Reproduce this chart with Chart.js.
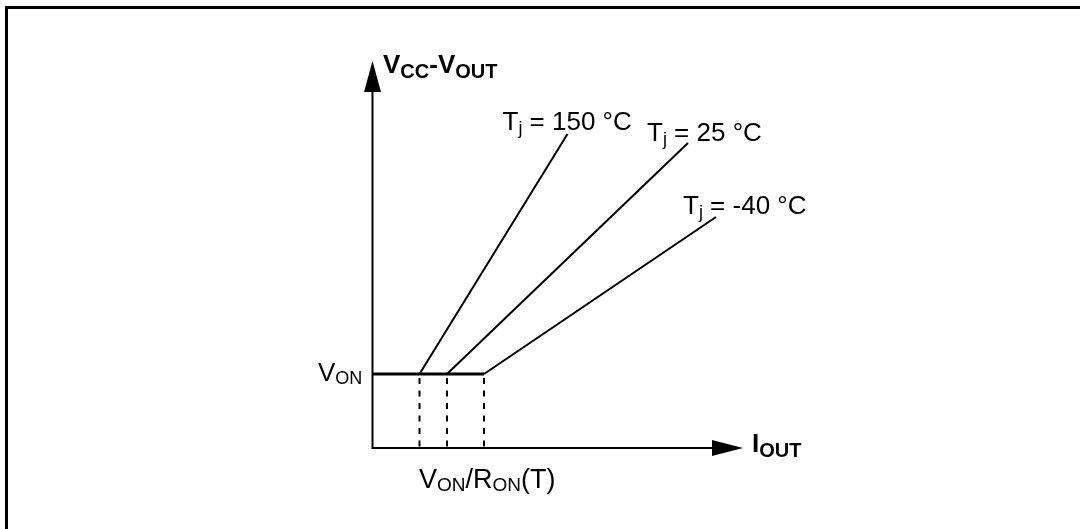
<!DOCTYPE html>
<html>
<head>
<meta charset="utf-8">
<script src="https://cdn.jsdelivr.net/npm/chart.js@4"></script>
<style>
    html, body { margin: 0; padding: 0; background: #fff; }
    #wrap { position: relative; width: 1080px; height: 529px; overflow: hidden; }
    #frame { position: absolute; left: 5px; top: 6px; right: -10px; bottom: -10px;
             border-left: 3px solid #000; border-top: 3px solid #000; }
    canvas { position: absolute; left: 0; top: 0; }
</style>
</head>
<body>
<div id="wrap">
    <div id="frame"></div>
    <canvas id="chart" width="1080" height="529"></canvas>
</div>
<script>
// values (arbitrary units, origin at the axes corner)
const V_ON = 7.4;
const temps = ["150", "25", "-40"];
const kneeCurrent = [4.7, 7.45, 11.15];     // V_ON / R_ON(T)
const endCurrent = [19.5, 31.55, 34.35];
const endVoltage = [31.4, 30.5, 23.1];
const X_AXIS_END = 37.05;
const Y_AXIS_END = 38.7;

const FONT = '"Liberation Sans", Arial, Helvetica, sans-serif';

// label runs: [text, isSubscript]
const tempLabels = temps.map(t => [["T", false], ["j", true], [" = " + t + " \u00b0C", false]]);
const tempLabelOffset = [[-65, -4], [-41, -2], [-33, -3]];   // px from line top end

const datasets = [];
// flat V_ON part
datasets.push({ data: [{ x: 0, y: V_ON }, { x: kneeCurrent[2], y: V_ON }], borderWidth: 3 });
// resistive slopes
temps.forEach((t, i) => {
    datasets.push({ data: [{ x: kneeCurrent[i], y: V_ON }, { x: endCurrent[i], y: endVoltage[i] }], borderWidth: 2 });
});
// dashed drops to the current axis
temps.forEach((t, i) => {
    datasets.push({ data: [{ x: kneeCurrent[i], y: V_ON }, { x: kneeCurrent[i], y: 0 }],
        borderWidth: 2, borderDash: [6, 6.5], borderDashOffset: -4 });
});
datasets.forEach(d => {
    d.showLine = true; d.borderColor = "#000"; d.pointRadius = 0; d.fill = false; d.borderCapStyle = "butt";
});

function drawRuns(ctx, runs, x, y, size, subSize, bold, subDrop) {
    const w = bold ? "bold " : "";
    runs.forEach(([txt, sub]) => {
        ctx.font = w + (sub ? subSize : size) + "px " + FONT;
        ctx.fillText(txt, x, sub ? y + subDrop : y);
        x += ctx.measureText(txt).width;
    });
}

const sketchPlugin = {
    id: "sketch",
    afterDatasetsDraw(chart) {
        const ctx = chart.ctx;
        const xs = chart.scales.x, ys = chart.scales.y;
        const ox = xs.getPixelForValue(0), oy = ys.getPixelForValue(0);
        const xt = xs.getPixelForValue(X_AXIS_END), yt = ys.getPixelForValue(Y_AXIS_END);
        ctx.save();
        ctx.strokeStyle = "#000";
        ctx.fillStyle = "#000";
        ctx.lineWidth = 2;
        // axes
        ctx.beginPath();
        ctx.moveTo(ox, yt + 20); ctx.lineTo(ox, oy); ctx.lineTo(xt - 20, oy);
        ctx.stroke();
        // arrow heads
        ctx.beginPath();
        ctx.moveTo(ox, yt); ctx.lineTo(ox - 8.5, yt + 31); ctx.lineTo(ox + 8.5, yt + 31); ctx.closePath();
        ctx.fill();
        ctx.beginPath();
        ctx.moveTo(xt, oy); ctx.lineTo(xt - 31, oy - 8); ctx.lineTo(xt - 31, oy + 8); ctx.closePath();
        ctx.fill();

        ctx.textBaseline = "alphabetic";
        // axis titles
        drawRuns(ctx, [["V", false], ["CC", true], ["-V", false], ["OUT", true]],
            ox + 10.5, yt + 12, 26, 20, true, 5);
        drawRuns(ctx, [["I", false], ["OUT", true]], xt + 9, oy + 4, 26, 20, true, 5);
        // V_ON marker text
        const vy = ys.getPixelForValue(V_ON);
        drawRuns(ctx, [["V", false], ["ON", true]], ox - 54.5, vy + 7, 26, 18, false, 3);
        // knee current text
        drawRuns(ctx, [["V", false], ["ON", true], ["/R", false], ["ON", true], ["(T)", false]],
            xs.getPixelForValue(kneeCurrent[0]) - 0.5, oy + 40, 27, 19, false, 3);
        // temperature labels
        tempLabels.forEach((runs, i) => {
            const px = xs.getPixelForValue(endCurrent[i]) + tempLabelOffset[i][0];
            const py = ys.getPixelForValue(endVoltage[i]) + tempLabelOffset[i][1];
            drawRuns(ctx, runs, px, py, 26, 18, false, 4);
        });
        ctx.restore();
    }
};

new Chart(document.getElementById("chart").getContext("2d"), {
    type: "scatter",
    data: { datasets: datasets },
    options: {
        responsive: false,
        animation: false,
        layout: { padding: 0 },
        scales: {
            x: { type: "linear", display: false, min: -37.25, max: 70.75 },
            y: { type: "linear", display: false, min: -8.1, max: 44.8 }
        },
        plugins: { legend: { display: false }, tooltip: { enabled: false } }
    },
    plugins: [sketchPlugin]
});
</script>
</body>
</html>
